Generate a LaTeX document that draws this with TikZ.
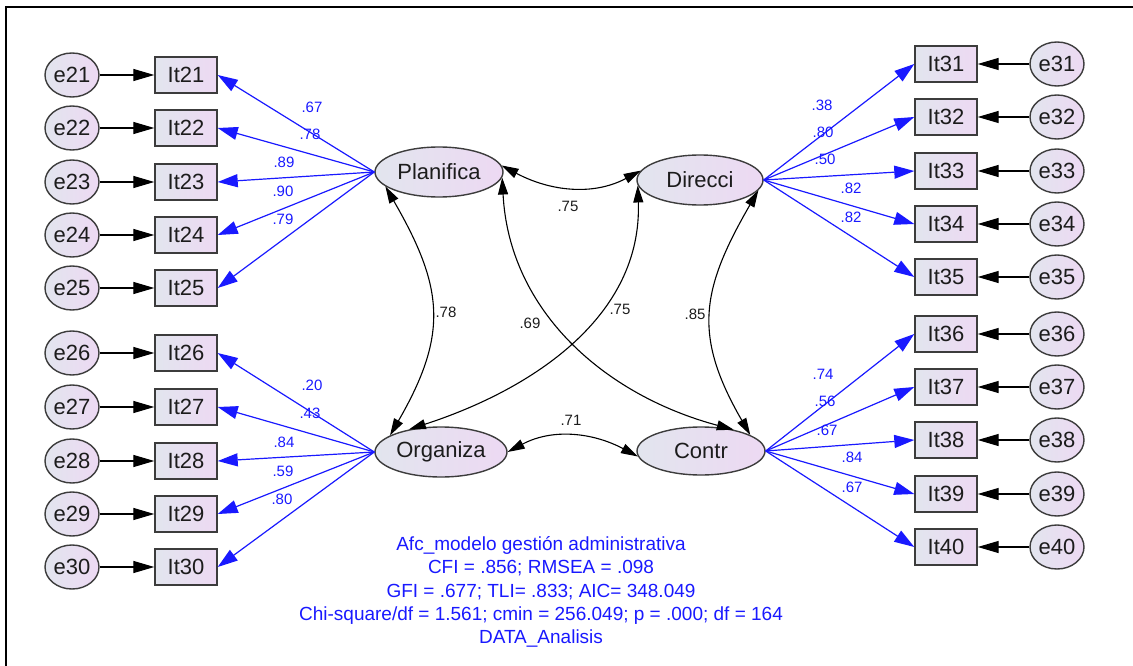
\documentclass[tikz,border=0pt]{standalone}
\usepackage{fontspec}
\setmainfont{Liberation Sans}
\usetikzlibrary{arrows.meta,shapes.geometric}

\definecolor{fillL}{RGB}{226,229,238}
\definecolor{fillR}{RGB}{237,217,243}
\definecolor{edgegray}{RGB}{60,60,60}
\definecolor{pathblue}{RGB}{25,25,255}
\definecolor{inkdark}{RGB}{28,28,28}

\begin{document}
\begin{tikzpicture}[x=1pt,y=1pt,
  base/.style={draw=edgegray, line width=1.4pt, left color=fillL, right color=fillR,
    text=inkdark, font=\fontsize{22}{24}\selectfont, inner sep=0pt},
  err/.style={base, ellipse, minimum width=54pt, minimum height=44pt},
  item/.style={base, rectangle, minimum width=62pt, minimum height=36pt},
  latent/.style={base, ellipse, minimum height=50pt},
  errpath/.style={draw=black, line width=1.3pt, -{Triangle[length=21pt,width=12pt]}},
  load/.style={draw=pathblue, line width=1.2pt, -{Triangle[length=20pt,width=13pt]}, color=pathblue},
  cov/.style={draw=black, line width=1.1pt,
    {Triangle[length=17pt,width=10pt]}-{Triangle[length=17pt,width=10pt]}},
  wlbl/.style={text=pathblue, font=\fontsize{15}{17}\selectfont, inner sep=0pt},
  klbl/.style={text=inkdark, font=\fontsize{15}{17}\selectfont, inner sep=0pt},
  fitnote/.style={text=pathblue, font=\fontsize{19}{23.3}\selectfont, align=center, inner sep=0pt}
]
\useasboundingbox (0,0) rectangle (1133,-666);

% frame (left and top rules)
\draw[line width=2.3pt] (6,-666) -- (6,-7) -- (1133,-7);

% latent factors
\node[latent, minimum width=128pt] (Planifica) at (439,-172) {Planifica};
\node[latent, minimum width=126pt] (Direcci)   at (700,-180) {Direcci};
\node[latent, minimum width=132pt] (Organiza)  at (441,-452) {Organiza};
\node[latent, minimum width=128pt, minimum height=48pt] (Contr) at (701,-451) {Contr};

% left indicators and errors
\foreach \n/\y in {21/75,22/128,23/182,24/235,25/288,26/353,27/407,28/461,29/514,30/567}{
  \node[err]  (e\n)  at (72,-\y)  {e\n};
  \node[item] (It\n) at (186,-\y) {It\n};
  \draw[errpath] (e\n.east) -- (It\n.west);
}
% right indicators and errors
\foreach \n/\y in {31/64,32/117,33/171,34/224,35/277,36/334,37/387,38/440,39/494,40/547}{
  \node[err]  (e\n)  at (1057,-\y) {e\n};
  \node[item] (It\n) at (946,-\y)  {It\n};
  \draw[errpath] (e\n.west) -- (It\n.east);
}

% factor loadings
\foreach \n in {21,...,25}{ \draw[load] (Planifica.west) -- (It\n.east); }
\foreach \n in {26,...,30}{ \draw[load] (Organiza.west) -- (It\n.east); }
\foreach \n in {31,...,35}{ \draw[load] (Direcci.east) -- (It\n.west); }
\foreach \n in {36,...,40}{ \draw[load] (Contr.east) -- (It\n.west); }

% loading estimates
\node[wlbl] (w21) at (312,-107) {.67};
\node[wlbl] (w22) at (310,-134) {.78};
\node[wlbl] (w23) at (284,-162) {.89};
\node[wlbl] (w24) at (283,-191) {.90};
\node[wlbl] (w25) at (283,-219) {.79};
\node[wlbl] (w26) at (312,-385) {.20};
\node[wlbl] (w27) at (310,-413) {.43};
\node[wlbl] (w28) at (284,-442) {.84};
\node[wlbl] (w29) at (283,-471) {.59};
\node[wlbl] (w30) at (282,-499) {.80};
\node[wlbl] (w31) at (822,-105) {.38};
\node[wlbl] (w32) at (823,-132) {.80};
\node[wlbl] (w33) at (825,-159) {.50};
\node[wlbl] (w34) at (851,-188) {.82};
\node[wlbl] (w35) at (851,-217) {.82};
\node[wlbl] (w36) at (823,-374) {.74};
\node[wlbl] (w37) at (825,-401) {.56};
\node[wlbl] (w38) at (827,-430) {.67};
\node[wlbl] (w39) at (852,-457) {.84};
\node[wlbl] (w40) at (852,-487) {.67};

% factor covariances
\draw[cov] (Planifica.6) to[out=-28,in=208] (Direcci.171);
\draw[cov] (Organiza.0) to[out=28,in=152] (Contr.185);
\draw[cov] (Planifica.195) to[out=-60,in=60,looseness=1.2] (Organiza.162);
\draw[cov] (Direcci.-10) to[out=-120,in=120,looseness=1.2] (Contr.18);
\draw[cov] (Planifica.-5) to[out=-87,in=165] (Contr.33);
\draw[cov] (Organiza.145) to[out=18,in=-88] (Direcci.185);

\node[klbl] (cPD) at (568,-206) {.75};
\node[klbl] (cPO) at (446,-312) {.78};
\node[klbl] (cPC) at (530,-323) {.69};
\node[klbl] (cOD) at (620,-309) {.75};
\node[klbl] (cDC) at (695,-314) {.85};
\node[klbl] (cOC) at (571,-420) {.71};

% fit summary
\node[fitnote] (fit) at (541,-592) {Afc\_modelo gestión administrativa\\
CFI = .856; RMSEA = .098\\
GFI = .677; TLI= .833; AIC= 348.049\\
Chi-square/df = 1.561; cmin = 256.049; p = .000; df = 164\\
DATA\_Analisis};
\end{tikzpicture}
\end{document}
